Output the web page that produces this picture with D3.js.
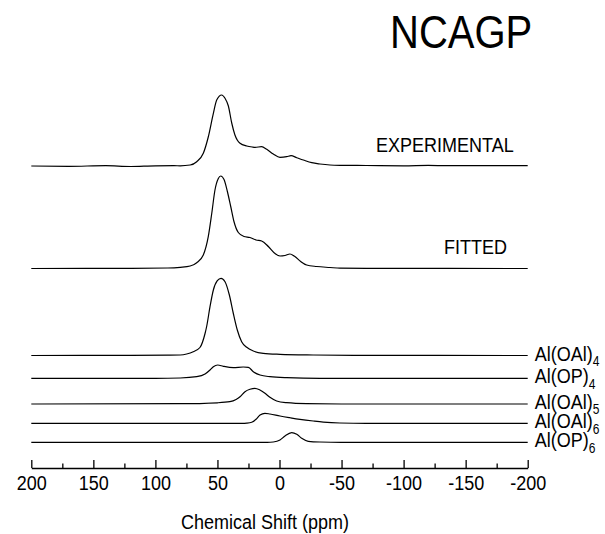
<!DOCTYPE html>
<html>
<head>
<meta charset="utf-8">
<script src="https://cdn.jsdelivr.net/npm/d3@7"></script>
<style>
  html, body { margin: 0; padding: 0; background: #fff; }
  svg { display: block; }
</style>
</head>
<body>
<script>
// ---------------- DATA ----------------
const title = "NCAGP";
const xLabel = "Chemical Shift (ppm)";
const majorTicks = [200, 150, 100, 50, 0, -50, -100, -150, -200];
const minorTicks = [175, 125, 75, 25, -25, -75, -125, -175];

// each series: [ppm, intensity]
const expData = [[200,0],[170,-0.3],[140,0.3],[120,-0.5],[100,0.2],[85,0.3],[80,0.2],[72,1],[66.7,4.3],[61.4,12.7],[57.4,29],[53.3,52.7],[50.6,66],[46.6,71],[43.9,67.7],[41.2,60],[38.5,43],[35.9,31],[31.8,22.7],[26.4,20],[22,19],[19.7,18.7],[14.4,19.3],[10.3,16.7],[5,12],[-0.4,8.7],[-5.8,9.3],[-9.3,10.3],[-13.9,8.3],[-19.2,6],[-26,3.3],[-32.6,2],[-40.7,1],[-48.7,0.7],[-70,0.5],[-100,0.2],[-120,0.6],[-135,0.3],[-160,0.4],[-200,0.3]];
const fitData = [[200,0],[120,0.2],[90,0.5],[80,1.2],[72,2.5],[66.7,5.8],[61.4,13.5],[57.4,31.8],[54.6,55],[52,78.5],[49.3,90],[47.4,92.5],[44.7,89],[42,77],[39.3,62],[36.7,47],[33.2,36],[28.6,32],[23.8,31],[18.9,28.5],[14.4,27.5],[9,22],[3.6,15],[-0.4,12.5],[-4.4,13],[-8.4,14.5],[-12.4,12],[-17.1,7],[-21.9,3.5],[-30,2],[-40.7,1],[-48.7,0.3],[-70,0.1],[-200,0]];
const oal4Data = [[200,0],[120,0.1],[90,0.3],[80,0.5],[74.8,1.5],[69.5,3.8],[64.1,8],[60,22],[58.7,29],[56,48.8],[53.3,65.5],[50.1,74.8],[47.1,77.2],[43.9,73.8],[40.4,60.5],[37.2,42],[34,25.5],[30.5,13.8],[26.4,8.2],[21.1,4.5],[13.1,2.2],[-0.4,1.2],[-27.2,0.5],[-60,0.2],[-200,0]];
const op4Data = [[200,0],[100,0],[80,0.3],[66.7,1.6],[60,4.3],[56,8.3],[53.3,11.6],[49.8,13.3],[45.3,12],[37.2,10.6],[29.2,11.3],[25.1,11],[21.1,6.6],[15.7,3.3],[7.7,1.6],[-5.8,0.6],[-32.6,0],[-200,0]];
const oal5Data = [[200,0],[80,0.3],[50,1.2],[40,2.3],[35,4.5],[31.8,7.3],[27.8,12.3],[23.8,14.7],[19.8,15.7],[15.8,14],[11.7,10.7],[7.7,6.7],[2.3,3],[-5.8,1.3],[-21.9,0.3],[-50,0],[-200,0]];
const oal6Data = [[200,0],[30,0],[26.4,0.2],[22.4,1],[18.9,4],[15.7,8.3],[11.7,10],[7.7,9.3],[-0.4,7.3],[-8.4,5.6],[-16.5,4],[-27.2,2.3],[-35.3,1.2],[-48.7,0.3],[-70,0],[-200,0]];
const op6Data = [[200,0],[10,0],[5,0.3],[-0.4,2.3],[-4.4,6.3],[-9.8,9.6],[-13.9,8],[-17.9,4],[-23.2,1],[-32.6,0.3],[-50,0],[-200,0]];

const seriesData = [expData, fitData, oal4Data, op4Data, oal5Data, oal6Data, op6Data];
const seriesOffsets = [302, 199.5, 112.5, 89.7, 64, 44.7, 25.7];

const curveLabels = ["EXPERIMENTAL", "FITTED"];
const curveLabelPpm = [-77.8, -132.6];
const componentNames = ["Al(OAl)", "Al(OP)", "Al(OAl)", "Al(OAl)", "Al(OP)"];
const componentSubs = ["4", "4", "5", "6", "6"];

// ---------------- DRAW ----------------
const W = 605, H = 534;
const FONT = "'Liberation Sans', Arial, Helvetica, sans-serif";
const VS = 1.17; // vertical stretch of glyphs

const svg = d3.select("body").append("svg").attr("width", W).attr("height", H);

const x = d3.scaleLinear().domain([200, -200]).range([31.3, 527.7]);
const y = d3.scaleLinear().domain([0, 400]).range([468, 68]);

seriesData.forEach((data, i) => {
  const off = seriesOffsets[i];
  const line = d3.line()
    .x(d => x(d[0]))
    .y(d => y(d[1] + off))
    .curve(d3.curveMonotoneX);
  svg.append("path")
    .attr("d", line(data))
    .attr("fill", "none")
    .attr("stroke", "#000")
    .attr("stroke-width", 1.2)
    .attr("stroke-linejoin", "round");
});

function stretchedText(tx, ty, str, size, anchor) {
  return svg.append("text")
    .attr("transform", `translate(${tx},${ty}) scale(1,${VS})`)
    .attr("font-family", FONT)
    .attr("font-size", size)
    .attr("text-anchor", anchor || "start")
    .attr("fill", "#000")
    .text(str);
}

// curve labels
curveLabels.forEach((lab, i) => {
  stretchedText(x(curveLabelPpm[i]), y(seriesOffsets[i]) - 14.4, lab, 18, "start");
});

// component labels
componentNames.forEach((nm, i) => {
  const t = svg.append("text")
    .attr("transform", `translate(${x(-200) + 7},${y(seriesOffsets[i + 2]) + 5}) scale(1,${VS})`)
    .attr("font-family", FONT)
    .attr("font-size", 18)
    .attr("fill", "#000");
  t.append("tspan").text(nm);
  t.append("tspan").attr("font-size", 12).attr("dy", 4.5).text(componentSubs[i]);
});

// title
stretchedText(390, 48, title, 40, "start");

// axis
const axisY = y(0);
const gMinor = svg.append("g").attr("transform", `translate(0,${axisY})`)
  .call(d3.axisBottom(x).tickValues(minorTicks).tickSizeInner(-4.5).tickSizeOuter(0).tickFormat(""));
gMinor.select(".domain").remove();
gMinor.selectAll("line").attr("stroke", "#000").attr("stroke-width", 1.3);

const gAxis = svg.append("g").attr("transform", `translate(0,${axisY})`)
  .call(d3.axisBottom(x).tickValues(majorTicks).tickSizeInner(-8).tickSizeOuter(0).tickFormat(d => String(d)));
gAxis.select(".domain").attr("stroke", "#000").attr("stroke-width", 1.3);
gAxis.selectAll(".tick line").attr("stroke", "#000").attr("stroke-width", 1.3);
gAxis.selectAll(".tick text")
  .attr("y", null).attr("dy", null)
  .attr("transform", `translate(0,22) scale(1,${VS})`)
  .attr("font-family", FONT)
  .attr("font-size", 18)
  .attr("fill", "#000");
gAxis.attr("font-family", FONT).attr("font-size", 18);

// x axis title
stretchedText(265, 529, xLabel, 18, "middle");
</script>
</body>
</html>
